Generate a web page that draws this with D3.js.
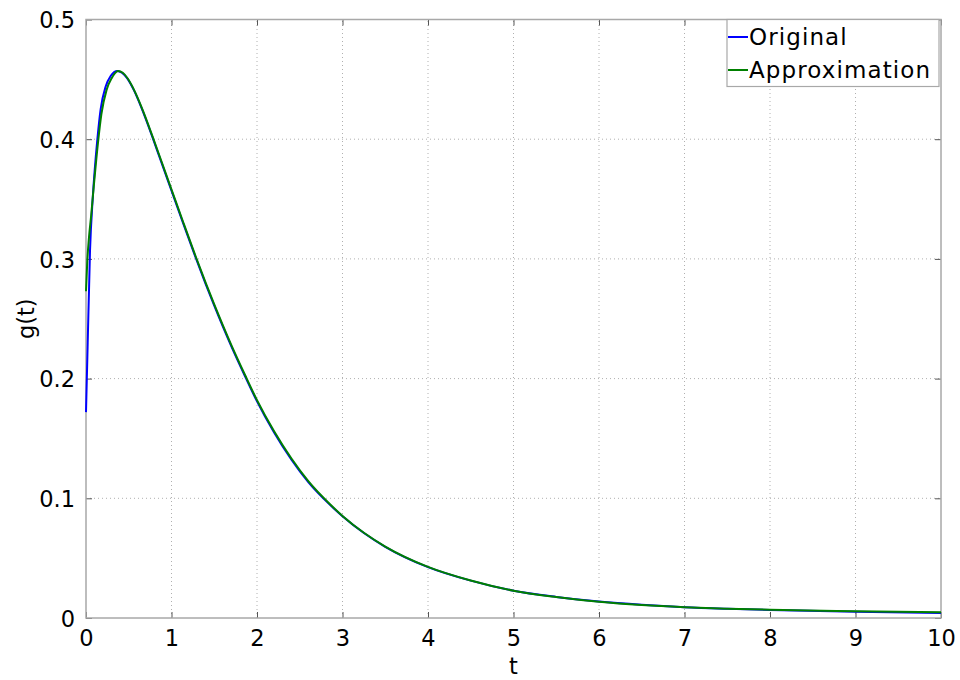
<!DOCTYPE html>
<html>
<head>
<meta charset="UTF-8">
<title>g(t)</title>
<script src="https://cdn.jsdelivr.net/npm/d3@7/dist/d3.min.js"></script>
<style type="text/css">
body { margin: 0; background: #fff; }
svg { display: block; }
text { font-family: "DejaVu Sans", sans-serif; fill: #000; }
.grid line { stroke: #b0b0b0; stroke-dasharray: 1,3; stroke-width: 1; }
</style>
</head>
<body>
<div id="chart"></div>
<script>
// values
var xTicks = [0, 1, 2, 3, 4, 5, 6, 7, 8, 9, 10];
var yTicks = [0, 0.1, 0.2, 0.3, 0.4, 0.5];
var yTickLabels = ["0", "0.1", "0.2", "0.3", "0.4", "0.5"];

var origT = [0, 0.02, 0.047, 0.08, 0.133, 0.171, 0.23, 0.29, 0.366, 0.42, 0.476, 0.56, 0.65, 0.776, 0.88, 1.0, 1.14, 1.283, 1.4, 1.5, 1.7, 1.86, 2.0, 2.2, 2.405, 2.6, 2.854, 3.0, 3.25, 3.5, 4.0, 4.5, 5.0, 5.5, 6.0, 6.5, 7.0, 7.5, 8.0, 9.0, 10.0];
var origG = [0.172, 0.23, 0.307, 0.352, 0.40, 0.425, 0.444, 0.453, 0.457, 0.4555, 0.4515, 0.441, 0.426, 0.402, 0.381, 0.357, 0.329, 0.301, 0.279, 0.261, 0.227, 0.202, 0.181, 0.155, 0.132, 0.1135, 0.0945, 0.0850, 0.0710, 0.0595, 0.0425, 0.0312, 0.0228, 0.0176, 0.0137, 0.0110, 0.0090, 0.0077, 0.0067, 0.0053, 0.0042];

var apprT = [0, 0.015, 0.035, 0.06, 0.09, 0.14, 0.18, 0.24, 0.3, 0.375, 0.43, 0.49, 0.57, 0.66, 0.78, 0.88, 1.0, 1.14, 1.283, 1.4, 1.5, 1.7, 1.86, 2.0, 2.2, 2.405, 2.6, 2.854, 3.0, 3.25, 3.5, 4.0, 4.5, 5.0, 5.5, 6.0, 6.5, 7.0, 7.5, 8.0, 9.0, 10.0];
var apprG = [0.273, 0.298, 0.318, 0.336, 0.36, 0.397, 0.421, 0.441, 0.451, 0.457, 0.4555, 0.4505, 0.440, 0.425, 0.402, 0.382, 0.358, 0.330, 0.302, 0.280, 0.262, 0.228, 0.203, 0.182, 0.156, 0.133, 0.1143, 0.0950, 0.0853, 0.0712, 0.0597, 0.0427, 0.0313, 0.0228, 0.0175, 0.0135, 0.0108, 0.0090, 0.0078, 0.0069, 0.0057, 0.0047];

var seriesNames = ["Original", "Approximation"];
var seriesColors = ["#0000ff", "#008000"];

var width = 960, height = 680;
var margin = {left: 86, right: 19, top: 19.5, bottom: 62};

var svg = d3.select("#chart").append("svg")
    .attr("width", width)
    .attr("height", height);

var x = d3.scaleLinear().domain([0, 10]).range([margin.left, width - margin.right]);
var y = d3.scaleLinear().domain([0, 0.5]).range([height - margin.bottom, margin.top]);

// dotted grid
var grid = svg.append("g").attr("class", "grid");
grid.selectAll(".gx").data(xTicks.slice(1, -1)).enter().append("line")
    .attr("x1", function (d) { return x(d); })
    .attr("x2", function (d) { return x(d); })
    .attr("y1", y(0)).attr("y2", y(0.5));
grid.selectAll(".gy").data(yTicks.slice(1, -1)).enter().append("line")
    .attr("x1", x(0)).attr("x2", x(10))
    .attr("y1", function (d) { return y(d); })
    .attr("y2", function (d) { return y(d); });

// axes with inward ticks
var tickColor = "#555";
var xAxisB = d3.axisBottom(x).tickValues(xTicks).tickSizeInner(-6).tickSizeOuter(0).tickPadding(12);
var xAxisT = d3.axisTop(x).tickValues(xTicks).tickSizeInner(-6).tickSizeOuter(0).tickFormat("");
var yAxisL = d3.axisLeft(y).tickValues(yTicks).tickSizeInner(-6).tickSizeOuter(0).tickPadding(11)
    .tickFormat(function (d, i) { return yTickLabels[i]; });
var yAxisR = d3.axisRight(y).tickValues(yTicks).tickSizeInner(-6).tickSizeOuter(0).tickFormat("");

function styleAxis(g) {
    g.select(".domain").remove();
    g.selectAll(".tick line").attr("stroke", tickColor).attr("stroke-width", 1);
    g.selectAll(".tick text").style("font-size", "22.5px").attr("fill", "#000");
}

svg.append("g").attr("transform", "translate(0," + y(0) + ")").call(xAxisB).call(styleAxis);
svg.append("g").attr("transform", "translate(0," + y(0.5) + ")").call(xAxisT).call(styleAxis);
svg.append("g").attr("transform", "translate(" + x(0) + ",0)").call(yAxisL).call(styleAxis)
    .selectAll(".tick text").attr("dy", "0.36em");
svg.append("g").attr("transform", "translate(" + x(10) + ",0)").call(yAxisR).call(styleAxis);

// frame
svg.append("rect")
    .attr("x", x(0)).attr("y", y(0.5))
    .attr("width", x(10) - x(0)).attr("height", y(0) - y(0.5))
    .attr("fill", "none").attr("stroke", "#a8a8a8").attr("stroke-width", 1.5);

// curves
var line = d3.line()
    .x(function (d) { return x(d[0]); })
    .y(function (d) { return y(d[1]); })
    .curve(d3.curveMonotoneX);

var series = [d3.zip(origT, origG), d3.zip(apprT, apprG)];
svg.append("g").selectAll("path").data(series).enter().append("path")
    .attr("d", line)
    .attr("fill", "none")
    .attr("stroke", function (d, i) { return seriesColors[i]; })
    .attr("stroke-width", 2);

// axis labels
svg.append("text")
    .attr("x", (x(0) + x(10)) / 2).attr("y", 674)
    .attr("text-anchor", "middle")
    .style("font-size", "22.5px")
    .text("t");
svg.append("text")
    .attr("transform", "translate(34," + ((y(0) + y(0.5)) / 2) + ") rotate(-90)")
    .attr("text-anchor", "middle")
    .style("font-size", "22.5px")
    .text("g(t)");

// legend
var legend = svg.append("g");
legend.append("rect")
    .attr("x", 727).attr("y", 19.5).attr("width", 212).attr("height", 67)
    .attr("fill", "#fff").attr("stroke", "#a8a8a8").attr("stroke-width", 1.2);
var items = legend.selectAll(".item").data(seriesNames).enter().append("g")
    .attr("transform", function (d, i) { return "translate(727," + (37 + i * 33) + ")"; });
items.append("line")
    .attr("x1", 1).attr("x2", 21).attr("y1", 0).attr("y2", 0)
    .attr("stroke", function (d, i) { return seriesColors[i]; })
    .attr("stroke-width", 2);
items.append("text")
    .attr("x", 22).attr("y", 8)
    .style("font-size", "23px")
    .style("letter-spacing", "1.1px")
    .text(function (d) { return d; });
</script>
</body>
</html>
